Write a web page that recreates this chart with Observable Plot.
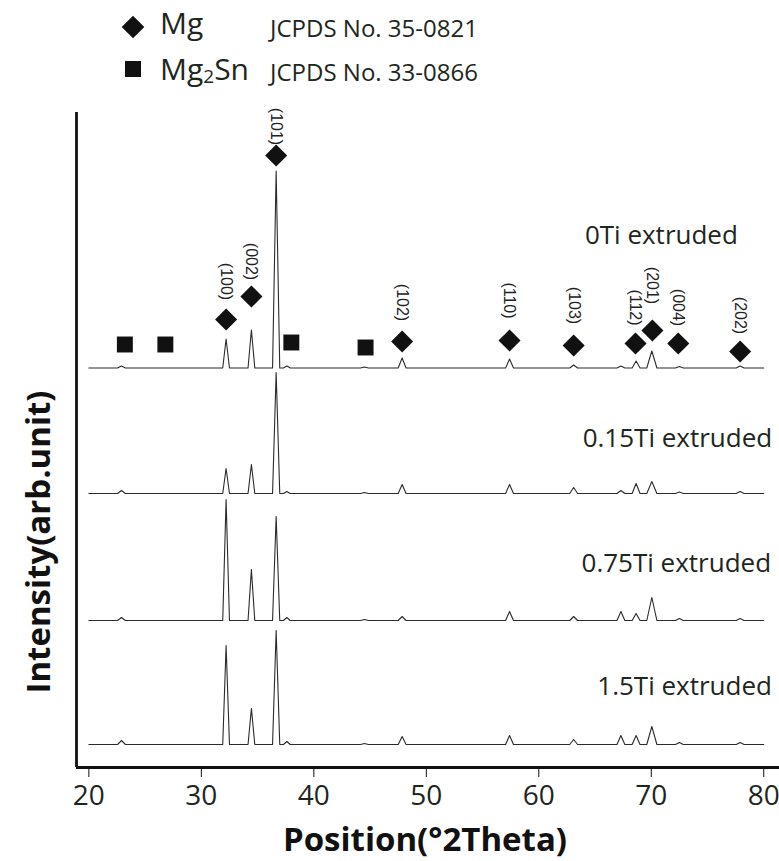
<!DOCTYPE html>
<html><head><meta charset="utf-8">
<script src="https://cdn.jsdelivr.net/npm/d3@7"></script>
<script src="https://cdn.jsdelivr.net/npm/@observablehq/plot@0.6"></script>
<style>
html,body{margin:0;padding:0;background:#fff;}
#wrap{position:relative;width:779px;height:861px;font-family:"Open Sans",sans-serif;color:#1e2620;overflow:hidden;}
#chart{position:absolute;left:0;top:0;}
.lg{position:absolute;line-height:1;white-space:nowrap;}
.sym{position:absolute;background:#111;}
.title{position:absolute;font-weight:700;font-size:33px;line-height:1;white-space:nowrap;color:#111;}
#chart g[aria-label="x-axis tick label"] text{fill:#1e2620;font-size:28px;}
</style></head><body>
<div id="wrap">
  <div id="chart"></div>
  <div class="sym" style="left:125px;top:19px;width:16px;height:16px;transform:rotate(45deg);"></div>
  <div class="lg" style="left:160px;top:8px;font-size:30px;">Mg</div>
  <div class="lg" style="left:270px;top:16px;font-size:24px;">JCPDS No. 35-0821</div>
  <div class="sym" style="left:125px;top:61px;width:16px;height:16px;"></div>
  <div class="lg" style="left:160px;top:54px;font-size:30px;">Mg<sub style="font-size:19px;vertical-align:-3px;">2</sub>Sn</div>
  <div class="lg" style="left:270px;top:60px;font-size:24px;">JCPDS No. 33-0866</div>
  <div class="title" style="left:425px;top:838px;transform:translate(-50%,-50%);">Position(°2Theta)</div>
  <div class="title" style="left:37px;top:542px;transform:translate(-50%,-50%) rotate(-90deg);">Intensity(arb.unit)</div>
</div>
<script>
// ---- data ----
const samples = ["0Ti extruded", "0.15Ti extruded", "0.75Ti extruded", "1.5Ti extruded"];
const baselines = [399.5, 274, 147, 23];           // vertical stacking offset of each pattern (arb. units)
const peakPositions = [22.9, 32.2, 34.45, 36.65, 37.6, 44.5, 47.85, 57.4, 63.1, 67.3, 68.65, 70.05, 72.5, 77.9];
const peakHalfWidths = [0.35, 0.3, 0.3, 0.32, 0.3, 0.35, 0.35, 0.35, 0.35, 0.35, 0.35, 0.45, 0.35, 0.35];
const heights0Ti   = [2, 29, 38, 197, 2, 1, 10, 9, 3, 2, 7, 17, 1.5, 2];
const heights015Ti = [3, 25, 29, 121, 2, 1, 9, 9, 6, 3, 10, 12, 1.5, 2];
const heights075Ti = [3, 121, 51, 104, 3, 1, 4, 9, 4, 9, 7, 23, 2, 2];
const heights15Ti  = [4, 99, 36, 114, 3, 1, 8, 9, 5, 9, 9, 18, 2, 2];
const scanRange = [20, 80];

const xTicks = [20, 30, 40, 50, 60, 70, 80];
const xDomain = [18.9, 81.4];
const yDomain = [0, 655];

const mgHkl = ["(100)", "(002)", "(101)", "(102)", "(110)", "(103)", "(112)", "(201)", "(004)", "(202)"];
const mgPos = [32.2, 34.45, 36.65, 47.85, 57.4, 63.1, 68.6, 70.1, 72.4, 77.9];
const mgMarkerY = [448, 471, 612, 426, 427, 422, 424, 437, 424, 416];
const mgLabelY = [486, 506, 641, 465, 467, 462, 460, 482, 460, 452];

const mg2snPos = [23.2, 26.8, 38.0, 44.6];
const mg2snMarkerY = [423, 423, 425, 420];

const sampleLabelX = [64.1, 63.9, 63.8, 65.2];
const sampleLabelY = [532, 329, 204, 81];

// ---- build tables ----
const allHeights = [heights0Ti, heights015Ti, heights075Ti, heights15Ti];
const traceRows = [];
samples.forEach((s, i) => {
  const b = baselines[i];
  traceRows.push({sample: s, x: scanRange[0], y: b});
  peakPositions.forEach((p, j) => {
    const w = peakHalfWidths[j];
    traceRows.push({sample: s, x: p - w, y: b});
    traceRows.push({sample: s, x: p, y: b + allHeights[i][j]});
    traceRows.push({sample: s, x: p + w, y: b});
  });
  traceRows.push({sample: s, x: scanRange[1], y: b});
});
const mgRows = mgHkl.map((h, i) => ({hkl: h, x: mgPos[i], y: mgMarkerY[i], ly: mgLabelY[i]}));
const snRows = mg2snPos.map((p, i) => ({x: p, y: mg2snMarkerY[i]}));
const sampleRows = samples.map((s, i) => ({text: s, x: sampleLabelX[i], y: sampleLabelY[i]}));

const chart = Plot.plot({
  width: 779, height: 861,
  marginLeft: 76, marginRight: 0, marginTop: 112, marginBottom: 94,
  x: {domain: xDomain, axis: null},
  y: {domain: yDomain, axis: null},
  style: {fontFamily: "Open Sans, sans-serif", background: "transparent", color: "#111"},
  marks: [
    Plot.line(traceRows, {x: "x", y: "y", z: "sample", stroke: "#2b2b2b", strokeWidth: 1.1}),
    Plot.ruleX([xDomain[0]], {y1: yDomain[0], y2: yDomain[1], stroke: "#111", strokeWidth: 2.8}),
    Plot.ruleY([yDomain[0]], {stroke: "#111", strokeWidth: 2.8}),
    Plot.axisX({ticks: xTicks, tickSize: 10, tickPadding: 8, fontSize: 28, stroke: "#111", label: null}),
    Plot.dot(mgRows, {x: "x", y: "y", symbol: "square", rotate: 45, r: 8.8, fill: "#111", stroke: null}),
    Plot.dot(snRows, {x: "x", y: "y", symbol: "square", r: 9, fill: "#111", stroke: null}),
    Plot.text(mgRows, {x: "x", y: "ly", text: "hkl", rotate: 90, fontSize: 16, fontFamily: "Liberation Sans, Arial, sans-serif", fill: "#222"}),
    Plot.text(sampleRows, {x: "x", y: "y", text: "text", textAnchor: "start", fontSize: 26, fill: "#1e2620"})
  ]
});
document.getElementById("chart").appendChild(chart);
</script>
</body></html>
